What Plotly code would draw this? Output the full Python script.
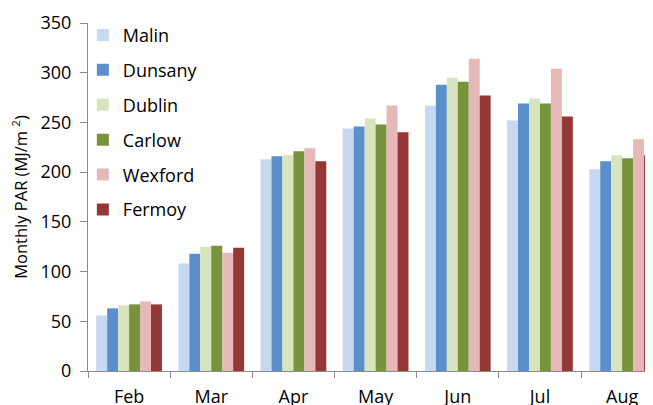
import plotly.graph_objects as go

months = ["Feb", "Mar", "Apr", "May", "Jun", "Jul", "Aug"]
malin = [56, 108, 213, 244, 267, 252, 203]
dunsany = [63, 118, 216, 246, 288, 269, 211]
dublin = [66, 125, 217, 254, 295, 274, 217]
carlow = [67, 126, 221, 248, 291, 269, 214]
wexford = [70, 119, 224, 267, 314, 304, 233]
fermoy = [67, 124, 211, 240, 277, 256, 217]

series = [
    ("Malin", malin, "#C6D9F0"),
    ("Dunsany", dunsany, "#5A8FCB"),
    ("Dublin", dublin, "#D7E4BD"),
    ("Carlow", carlow, "#77933C"),
    ("Wexford", wexford, "#E6B9B8"),
    ("Fermoy", fermoy, "#953735"),
]

fig = go.Figure()
for name, vals, color in series:
    fig.add_trace(go.Bar(
        x=months, y=vals, name=name, legendgroup=name,
        marker=dict(color=color, line=dict(width=0)),
    ))

axis_col = "#8C8C8C"
fig.update_layout(
    template="none",
    width=653, height=405,
    barmode="group", bargap=0.2, bargroupgap=0,
    plot_bgcolor="white", paper_bgcolor="white",
    font=dict(family="Open Sans", size=18, color="#000000"),
    margin=dict(l=80, r=0, t=15, b=42, pad=0),
    showlegend=True,
    legend=dict(
        x=-0.009, y=1.018, xanchor="left", yanchor="top",
        traceorder="grouped", tracegroupgap=8.5, maxheight=400,
        font=dict(family="Open Sans", size=18),
        bgcolor="rgba(0,0,0,0)", borderwidth=0,
    ),
    xaxis=dict(
        range=[-0.5, 6.473], showline=True, linecolor=axis_col, linewidth=1,
        ticks="outside", tickson="boundaries", ticklen=6, tickcolor=axis_col,
        ticklabelstandoff=9, showgrid=False, zeroline=False,
        tickfont=dict(size=18), automargin=False,
    ),
    yaxis=dict(
        range=[0, 350], tickvals=[0, 50, 100, 150, 200, 250, 300, 350],
        showline=True, linecolor=axis_col, linewidth=1,
        ticks="outside", ticklen=7, tickcolor=axis_col,
        ticklabelstandoff=5, showgrid=False, zeroline=False,
        tickfont=dict(size=18),
        title=dict(text="Monthly PAR (MJ/m <sup>2</sup>)", font=dict(size=16.5), standoff=8),
        automargin=False,
    ),
)

fig.write_html("out.html")
